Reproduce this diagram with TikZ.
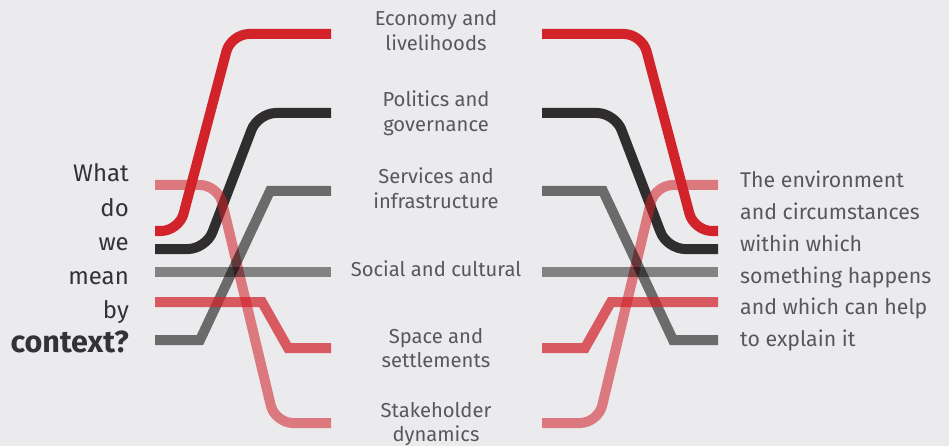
\documentclass[tikz,border=0pt]{standalone}
\usepackage{fontspec}
\setmainfont{Fira Sans}
\definecolor{bgc}{HTML}{EBEBED}
\definecolor{redc}{HTML}{D2232A}
\definecolor{blackc}{HTML}{2F2D2E}
\definecolor{textc}{HTML}{58585A}
\definecolor{titlec}{HTML}{333335}
\begin{document}
\begin{tikzpicture}[x=1pt,y=-1pt,
  band/.style={line width=10pt},
  curvy/.style={band, rounded corners=18pt},
  ecoline/.style={curvy, draw=redc},
  polline/.style={curvy, draw=blackc},
  stakeline/.style={curvy, draw=redc, draw opacity=0.57},
  socline/.style={band, draw=black, draw opacity=0.44},
  servline/.style={band, draw=black, draw opacity=0.54},
  spaceline/.style={band, draw=redc, draw opacity=0.72},
  midlabel/.style={inner sep=0pt, text=textc, font=\fontsize{20.2}{24.5}\selectfont},
  sidelabel/.style={inner sep=0pt, text=textc, font=\fontsize{21.3}{31.7}\selectfont},
  titlelabel/.style={inner sep=0pt, text=titlec, font=\fontsize{24}{34.2}\selectfont}
]
\fill[bgc] (0,0) rectangle (949,446);
\useasboundingbox (0,0) rectangle (949,446);

% end points
\coordinate (eL) at (155,231); \coordinate (eM) at (331,34);
\coordinate (pL) at (155,249); \coordinate (pM) at (331,113);
\coordinate (sL) at (155,185); \coordinate (sM) at (331,423);
\coordinate (vL) at (155,340); \coordinate (vM) at (331,191);
\coordinate (cL) at (155,272); \coordinate (cM) at (331,272);
\coordinate (aL) at (155,302); \coordinate (aM) at (331,348);

\coordinate (eN) at (542,34);  \coordinate (eR) at (718,231);
\coordinate (pN) at (542,113); \coordinate (pR) at (718,249);
\coordinate (sN) at (542,423); \coordinate (sR) at (718,185);
\coordinate (vN) at (542,191); \coordinate (vR) at (718,340);
\coordinate (cN) at (542,272); \coordinate (cR) at (718,272);
\coordinate (aN) at (542,348); \coordinate (aR) at (718,302);

% black lines (bottom)
\draw[polline] (pL) -- (206,249) -- (258,113) -- (pM);
\draw[polline] (pN) -- (615,113) -- (667,249) -- (pR);
% stakeholder
\draw[stakeline] (sL) -- (218,185) -- (275,423) -- (sM);
\draw[stakeline] (sN) -- (598,423) -- (655,185) -- (sR);
% economy
\draw[ecoline] (eL) -- (179,231) -- (231,34) -- (eM);
\draw[ecoline] (eN) -- (642,34) -- (694,231) -- (eR);
% social
\draw[socline] (cL) -- (cM);
\draw[socline] (cN) -- (cR);
% services
\draw[servline] (vL) -- (200,340) -- (270,191) -- (vM);
\draw[servline] (vN) -- (603,191) -- (673,340) -- (vR);
% space
\draw[spaceline] (aL) -- (262,302) -- (288,348) -- (aM);
\draw[spaceline] (aN) -- (585,348) -- (611,302) -- (aR);

% centre labels
\node[midlabel, anchor=base] (econ) at (436,26) {\begin{tabular}[t]{@{}c@{}}Economy and\\livelihoods\end{tabular}};
\node[midlabel, anchor=base] (poli) at (436,107) {\begin{tabular}[t]{@{}c@{}}Politics and\\governance\end{tabular}};
\node[midlabel, anchor=base] (serv) at (436,184) {\begin{tabular}[t]{@{}c@{}}Services and\\infrastructure\end{tabular}};
\node[midlabel, anchor=base] (soci) at (436,276) {Social and cultural};
\node[midlabel, anchor=base] (spac) at (436,343) {\begin{tabular}[t]{@{}c@{}}Space and\\settlements\end{tabular}};
\node[midlabel, anchor=base] (stak) at (436,417) {\begin{tabular}[t]{@{}c@{}}Stakeholder\\dynamics\end{tabular}};

% left title
\node[titlelabel, anchor=base east] (quest) at (129,182) {\begin{tabular}[t]{@{}r@{}}What\\do\\we\\mean\\by\\{\fontsize{30.5}{34.2}\selectfont\bfseries context?}\end{tabular}};

% right definition
\node[sidelabel, anchor=base west] (defn) at (740,188) {\begin{tabular}[t]{@{}l@{}}The environment\\and circumstances\\within which\\something happens\\and which can help\\to explain it\end{tabular}};
\end{tikzpicture}
\end{document}
